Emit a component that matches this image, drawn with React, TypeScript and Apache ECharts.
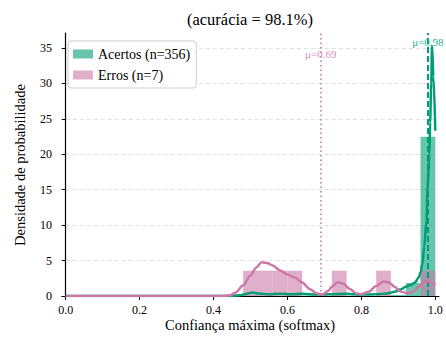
import React, { useEffect, useRef } from "react";
import * as echarts from "echarts";

const FONT = "'Liberation Serif', 'DejaVu Serif', serif";
const GREEN = "#009E73";
const PINK = "#CC79A7";

const titleText = "(acurácia = 98.1%)";
const xLabel = "Confiança máxima (softmax)";
const yLabel = "Densidade de probabilidade";
const seriesNames = ["Acertos (n=356)", "Erros (n=7)"];

const binWidth = 0.04;
const okBinStarts = [0.48, 0.52, 0.6, 0.64, 0.72, 0.76, 0.84, 0.88, 0.92, 0.96];
const okDensity = [0.07, 0.07, 0.07, 0.07, 0.07, 0.07, 0.07, 0.14, 1.83, 22.47];
const errBinStarts = [0.48, 0.52, 0.56, 0.6, 0.72, 0.84, 0.96];
const errDensity = [3.57, 3.57, 3.57, 3.57, 3.57, 3.57, 3.57];

const okKdeX = [0, 0.2, 0.44, 0.47, 0.49, 0.505, 0.52, 0.55, 0.58, 0.61, 0.64, 0.68, 0.72, 0.76, 0.8, 0.84, 0.87, 0.89, 0.905, 0.92, 0.935, 0.945, 0.955, 0.96, 0.965, 0.97, 0.976, 0.979, 0.984, 0.986, 0.989, 0.991, 0.995, 1.0];
const okKdeY = [0, 0, 0.0, 0.1, 0.3, 0.5, 0.35, 0.25, 0.3, 0.25, 0.3, 0.2, 0.25, 0.3, 0.2, 0.25, 0.35, 0.6, 0.9, 1.3, 1.6, 1.9, 2.6, 3.3, 4.5, 6.9, 10.6, 15.4, 20, 24.5, 30, 35.3, 31, 23.3];

const errKdeX = [0, 0.2, 0.4, 0.43, 0.445, 0.46, 0.48, 0.5, 0.515, 0.53, 0.545, 0.56, 0.58, 0.6, 0.62, 0.64, 0.66, 0.68, 0.695, 0.71, 0.72, 0.735, 0.75, 0.77, 0.785, 0.8, 0.82, 0.84, 0.86, 0.875, 0.89, 0.905, 0.925, 0.94, 0.955, 0.975, 0.99, 1.0];
const errKdeY = [0, 0, 0, 0.03, 0.1, 0.5, 1.5, 2.9, 4.0, 4.75, 4.65, 4.3, 3.6, 3.05, 2.6, 1.9, 1.0, 0.35, 0.22, 0.7, 1.3, 1.95, 1.75, 0.95, 0.4, 0.25, 0.6, 1.4, 2.05, 1.9, 1.3, 0.65, 0.35, 0.6, 1.3, 2.1, 1.9, 1.55];

const okMean = 0.98;
const errMean = 0.69;
const okMeanLabelY = 35.9;
const errMeanLabelY = 34.2;

const zip = (a: number[], b: number[]) => a.map((v, i) => [v, b[i]]);

function histSeries(name: string, starts: number[], dens: number[], fill: string, z: number) {
  return {
    name,
    type: "custom",
    z,
    itemStyle: { color: fill },
    encode: { x: [0, 1], y: 2 },
    data: starts.map((s, i) => [s, s + binWidth, dens[i]]),
    renderItem: (params: any, api: any) => {
      const p0 = api.coord([api.value(0), api.value(2)]);
      const p1 = api.coord([api.value(1), 0]);
      return {
        type: "rect",
        shape: { x: p0[0], y: p0[1], width: p1[0] - p0[0], height: p1[1] - p0[1] },
        style: { fill },
      };
    },
  };
}

function labelSeries(text: string, x: number, y: number, color: string) {
  return {
    type: "custom",
    z: 20,
    silent: true,
    clip: false,
    data: [[x, y]],
    renderItem: (params: any, api: any) => {
      const p = api.coord([api.value(0), api.value(1)]);
      return {
        type: "text",
        x: p[0],
        y: p[1],
        style: { text, fill: color, font: `11px ${FONT}`, align: "center", verticalAlign: "middle" },
      };
    },
  };
}

const tickLabelStyle = { color: "#000", fontSize: 12, fontFamily: FONT };

export default function App() {
  const ref = useRef<HTMLDivElement>(null);
  useEffect(() => {
    if (!ref.current) return;
    const chart = echarts.init(ref.current, null, { renderer: "svg" });
    const option: any = {
      animation: false,
      backgroundColor: "#ffffff",
      textStyle: { fontFamily: FONT },
      grid: [
        { left: 62, right: 7, top: 33, bottom: 47, containLabel: false, outerBoundsMode: "none" },
        { left: 65.7, right: 10.7, top: 47.9, bottom: 47, containLabel: false, outerBoundsMode: "none" },
      ],
      legend: {
        orient: "vertical",
        left: 68,
        top: 41,
        padding: [6, 6, 6, 5],
        itemGap: 7,
        itemWidth: 20,
        itemHeight: 9,
        backgroundColor: "rgba(255,255,255,0.85)",
        borderColor: "#cccccc",
        borderWidth: 1,
        borderRadius: 3,
        icon: "rect",
        textStyle: { fontFamily: FONT, fontSize: 14, color: "#000", lineHeight: 14 },
        data: seriesNames,
      },
      graphic: [
        { id: "title", type: "text", x: 250, y: 19, style: { text: titleText, font: `16.5px ${FONT}`, fill: "#000", align: "center", verticalAlign: "middle" } },
        { id: "xname", type: "text", x: 250, y: 325, style: { text: xLabel, font: `14.5px ${FONT}`, fill: "#000", align: "center", verticalAlign: "middle" } },
        { id: "yname", type: "text", x: 20, y: 165, rotation: Math.PI / 2, style: { text: yLabel, font: `14.5px ${FONT}`, fill: "#000", align: "center", verticalAlign: "middle" } },
      ],
      xAxis: [
        {
          gridIndex: 0,
          type: "value",
          min: -0.01,
          max: 1.01,
          axisLine: { show: true, lineStyle: { color: "#000", width: 1.2 } },
          axisTick: { show: false },
          axisLabel: { show: false },
          splitLine: { show: false },
        },
        {
          gridIndex: 1,
          type: "value",
          min: 0,
          max: 1,
          interval: 0.2,
          axisLine: { show: false },
          axisTick: { show: true, length: 4, lineStyle: { color: "#000", width: 1 } },
          axisLabel: { ...tickLabelStyle, margin: 8, formatter: (v: number) => v.toFixed(1) },
          splitLine: { show: false },
        },
      ],
      yAxis: [
        {
          gridIndex: 0,
          type: "value",
          min: 0,
          max: 37.1,
          axisLine: { show: true, lineStyle: { color: "#000", width: 1.2 } },
          axisTick: { show: false },
          axisLabel: { show: false },
          splitLine: { show: false },
        },
        {
          gridIndex: 1,
          type: "value",
          min: 0,
          max: 35,
          interval: 5,
          offset: 3.7,
          axisLine: { show: false },
          axisTick: { show: true, length: 4, lineStyle: { color: "#000", width: 1 } },
          axisLabel: { ...tickLabelStyle, margin: 10, formatter: (v: number) => String(Math.round(v)) },
          splitLine: { show: true, lineStyle: { color: "#d9d9d9", type: [4, 3], width: 0.8 } },
        },
      ],
      series: [
        histSeries(seriesNames[0], okBinStarts, okDensity, "rgba(0,158,115,0.6)", 2),
        histSeries(seriesNames[1], errBinStarts, errDensity, "rgba(204,121,167,0.6)", 3),
        {
          type: "line",
          data: zip(okKdeX, okKdeY),
          z: 4,
          showSymbol: false,
          smooth: 0.3,
          smoothMonotone: "x",
          lineStyle: { color: GREEN, width: 2.5 },
          itemStyle: { color: GREEN },
          silent: true,
        },
        {
          type: "line",
          data: zip(errKdeX, errKdeY),
          z: 5,
          showSymbol: false,
          smooth: 0.3,
          smoothMonotone: "x",
          lineStyle: { color: PINK, width: 2.5 },
          itemStyle: { color: PINK },
          silent: true,
          markLine: {
            silent: true,
            symbol: "none",
            label: { show: false },
            data: [
              { xAxis: errMean, lineStyle: { color: PINK, type: [1.5, 3], width: 1.6 } },
              { xAxis: okMean, lineStyle: { color: GREEN, type: [6, 3], width: 2 } },
            ],
          },
        },
        labelSeries(`μ=${errMean.toFixed(2)}`, errMean, errMeanLabelY, "#d98fba"),
        labelSeries(`μ=${okMean.toFixed(2)}`, okMean, okMeanLabelY, "#2bb08a"),
      ],
    };
    chart.setOption(option);
    return () => chart.dispose();
  }, []);
  return <div ref={ref} style={{ position: "absolute", left: 0, top: 0, width: 446, height: 343 }} />;
}
